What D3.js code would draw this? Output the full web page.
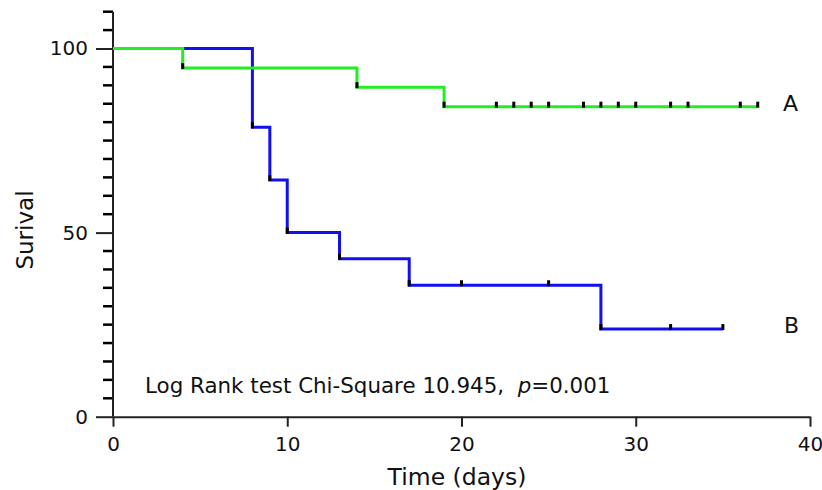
<!DOCTYPE html>
<html>
<head>
<meta charset="utf-8">
<script src="https://cdn.jsdelivr.net/npm/d3@7"></script>
<style>
	body { margin: 0; background: #fff; }
	text { font-family: "DejaVu Sans", Verdana, sans-serif; fill: #111; }
</style>
</head>
<body>
<svg id="container"></svg>
<script>
// group A (green)
const timesA = [0, 4, 14, 19, 37];
const survA = [100, 94.7, 89.5, 84.2, 84.2];
const eventsA = [4, 14, 19];
const censorA = [22, 23, 24, 25, 27, 28, 29, 30, 32, 33, 36, 37];

// group B (blue)
const timesB = [0, 8, 9, 10, 13, 17, 28, 35];
const survB = [100, 78.6, 64.3, 50, 42.9, 35.7, 23.8, 23.8];
const eventsB = [8, 9, 10, 13, 17, 28];
const censorB = [20, 25, 32, 35];

const xTicks = [0, 10, 20, 30, 40];
const yTicks = [0, 50, 100];
const yMinor = d3.range(5, 111, 5).filter(v => v % 50 !== 0);

function drawChart() {
	const W = 822, H = 490;
	const svg = d3.select("#container").attr("width", W).attr("height", H);

	// scales
	const x = d3.scaleLinear().domain([0, 40]).range([113, 810]);
	const y = d3.scaleLinear().domain([0, 110]).range([416.7, 11.7]);

	// y minor ticks
	svg.append("g")
		.selectAll("line")
		.data(yMinor)
		.enter().append("line")
		.attr("x1", 103).attr("x2", 113)
		.attr("y1", d => y(d)).attr("y2", d => y(d))
		.attr("stroke", "#000").attr("stroke-width", 2.5);

	// y axis
	const gY = svg.append("g")
		.attr("transform", "translate(" + x(0) + ",0)")
		.call(d3.axisLeft(y).tickValues(yTicks).tickSize(17).tickPadding(8).tickSizeOuter(0));
	gY.select(".domain").attr("d", "M0," + y(110) + "V" + y(0));

	// x axis
	const gX = svg.append("g")
		.attr("transform", "translate(0," + y(0) + ")")
		.call(d3.axisBottom(x).tickValues(xTicks).tickSize(10).tickPadding(10).tickSizeOuter(0));

	[gX, gY].forEach(g => {
		g.select(".domain").attr("stroke", "#222").attr("stroke-width", 2);
		g.selectAll(".tick line").attr("stroke", "#222").attr("stroke-width", 2);
		g.selectAll(".tick text").attr("font-size", 20).attr("font-family", "DejaVu Sans").attr("fill", "#111");
	});

	// survival curves
	const line = d3.line()
		.x(d => x(d[0]))
		.y(d => y(d[1]))
		.curve(d3.curveStepAfter);

	const groups = [
		{ times: timesB, surv: survB, events: eventsB, censor: censorB, color: "#1010f0" },
		{ times: timesA, surv: survA, events: eventsA, censor: censorA, color: "#22ee22" }
	];

	groups.forEach(g => {
		const pts = g.times.map((t, i) => [t, g.surv[i]]);
		svg.append("path")
			.datum(pts)
			.attr("d", line)
			.attr("fill", "none")
			.attr("stroke", g.color)
			.attr("stroke-width", 3);
	});

	// marks at events and censored times
	groups.forEach(g => {
		const level = t => {
			let s = g.surv[0];
			g.times.forEach((tt, i) => { if (tt <= t) s = g.surv[i]; });
			return s;
		};
		svg.append("g")
			.selectAll("line")
			.data(g.events.concat(g.censor))
			.enter().append("line")
			.attr("x1", d => x(d)).attr("x2", d => x(d))
			.attr("y1", d => y(level(d)) + 1)
			.attr("y2", d => y(level(d)) - 5)
			.attr("stroke", "#000")
			.attr("stroke-width", 3);
	});

	// group labels
	svg.append("text").attr("x", 783).attr("y", 111).attr("font-size", 22).text("A");
	svg.append("text").attr("x", 784).attr("y", 333).attr("font-size", 22).text("B");

	// axis titles
	svg.append("text")
		.attr("x", 457).attr("y", 485)
		.attr("text-anchor", "middle")
		.attr("font-size", 23.5)
		.text("Time (days)");

	svg.append("text")
		.attr("transform", "translate(33,230) rotate(-90)")
		.attr("text-anchor", "middle")
		.attr("font-size", 23)
		.text("Surival");

	// log rank annotation
	const note = svg.append("text")
		.attr("x", 145).attr("y", 392.5)
		.attr("font-size", 21.4)
		.attr("xml:space", "preserve");
	note.append("tspan").text("Log Rank test Chi-Square 10.945,  ");
	note.append("tspan").attr("font-style", "italic").text("p");
	note.append("tspan").text("=0.001");
}

drawChart();
</script>
</body>
</html>
